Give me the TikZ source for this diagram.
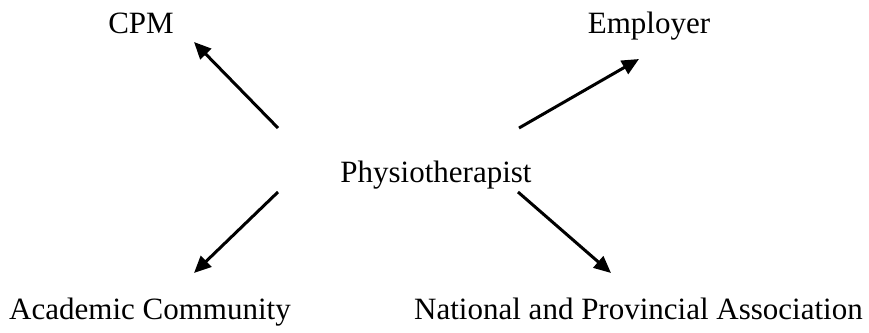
\documentclass[tikz,border=0pt]{standalone}
\usepackage{fontspec}
\setmainfont{Liberation Serif}
\usetikzlibrary{arrows.meta}
\begin{document}
\begin{tikzpicture}[x=1pt,y=-1pt,
  lbl/.style={anchor=base,inner sep=0pt,font=\fontsize{31}{37}\selectfont},
  arr/.style={line width=3pt,-{Triangle[length=17pt,width=15pt]}}]
\useasboundingbox (0,0) rectangle (869,332);
\node[lbl] (cpm) at (141,33) {CPM};
\node[lbl] (emp) at (649,33) {Employer};
\node[lbl] (phy) at (436,182) {Physiotherapist};
\node[lbl] (aca) at (150,319) {Academic Community};
\node[lbl] (nat) at (638.5,319) {National and Provincial Association};
\coordinate (t1) at (278,128);
\coordinate (h1) at (194,42);
\coordinate (t2) at (519,128);
\coordinate (h2) at (639,59);
\coordinate (t3) at (278,192);
\coordinate (h3) at (194,273);
\coordinate (t4) at (518,192);
\coordinate (h4) at (611,273);
\draw[arr] (t1) -- (h1);
\draw[arr] (t2) -- (h2);
\draw[arr] (t3) -- (h3);
\draw[arr] (t4) -- (h4);
\end{tikzpicture}
\end{document}
